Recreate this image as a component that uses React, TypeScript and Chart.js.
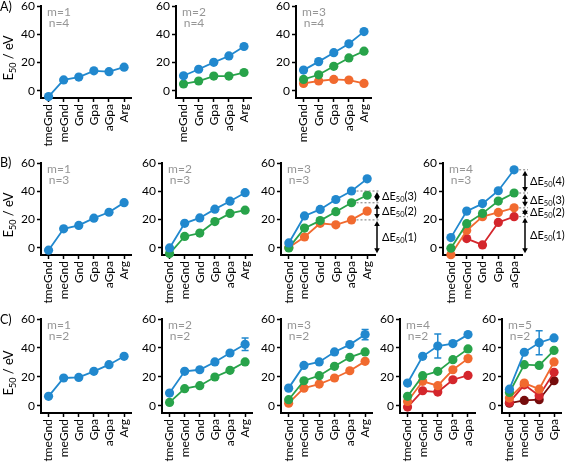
import React, { useEffect, useRef } from "react";
import { Chart, registerables } from "chart.js";

Chart.register(...registerables);

const FONT = "Lato, 'DejaVu Sans', sans-serif";
const BLUE = "rgb(33,136,206)";
const GREEN = "rgb(40,163,74)";
const ORANGE = "rgb(241,106,47)";
const RED = "rgb(212,38,44)";
const DARKRED = "rgb(118,12,12)";
const GRAY = "rgb(150,150,150)";

// categories
const catsSix = ["tmeGnd", "meGnd", "Gnd", "Gpa", "aGpa", "Arg"];
const catsNoT = ["meGnd", "Gnd", "Gpa", "aGpa", "Arg"];
const catsFive = ["tmeGnd", "meGnd", "Gnd", "Gpa", "aGpa"];
const catsFour = ["tmeGnd", "meGnd", "Gnd", "Gpa"];
const yTickValues = [0, 20, 40, 60];

// Row A (n=4)
const a1Blue = [-4, 7.8, 9.8, 14.2, 13.6, 16.8];
const a2Blue = [10.7, 15.3, 20.2, 24.7, 31.4];
const a2Green = [4.9, 7.0, 10.5, 10.5, 13.0];
const a3Blue = [14.7, 20.7, 27.0, 33.3, 41.9];
const a3Green = [8.1, 11.4, 17.4, 23.3, 28.1];
const a3Orange = [5.3, 7.0, 8.1, 7.7, 5.3];

// Row B (n=3)
const b1Blue = [-1.6, 13.5, 15.9, 21.0, 25.2, 32.0];
const b2Blue = [0, 17.4, 21.2, 27.4, 33.0, 39.0];
const b2Green = [-4, 8.1, 10.5, 18.6, 24.4, 26.7];
const b3Blue = [3.5, 22.6, 27.2, 34.2, 40.2, 48.8];
const b3Green = [0, 14.0, 19.3, 25.6, 31.9, 37.2];
const b3Orange = [0.3, 7.7, 17.4, 16.3, 19.8, 26.0];
const b4Blue = [7.3, 26.0, 31.3, 40.4, 55.2];
const b4Green = [-0.2, 17.1, 24.4, 33.1, 38.8];
const b4Orange = [-4.8, 12.3, 22.1, 25.1, 28.3];
const b4Red = [null, 6.6, 2.1, 18.0, 22.1];
const b3DeltaNums = [3, 2, 1];
const b4DeltaNums = [4, 3, 2, 1];

// Row C (n=2)
const c1Blue = [6.5, 19.2, 19.6, 23.8, 28.4, 34.2];
const c2Blue = [8.8, 23.8, 24.9, 30.3, 36.5, 42.5];
const c2BlueErr = [0, 0, 0, 0, 0, 4.3];
const c2Green = [2.3, 11.8, 13.9, 19.9, 24.5, 30.3];
const c3Blue = [12.2, 27.9, 30.3, 37.2, 42.3, 49.2];
const c3BlueErr = [0, 0, 0, 0, 0, 3.5];
const c3Green = [4.2, 17.3, 20.8, 27.3, 33.5, 37.2];
const c3Orange = [1.8, 12.2, 15.0, 19.2, 24.2, 30.7];
const c4Blue = [15.7, 34.2, 41.3, 43.0, 49.2];
const c4BlueErr = [0, 0, 8.3, 0, 0];
const c4Green = [6.5, 20.8, 23.8, 31.9, 39.3];
const c4Orange = [3.0, 16.9, 13.9, 24.9, 32.6];
const c4Red = [-0.9, 10.4, 9.5, 18.0, 21.0];
const c5Blue = [11.5, 37.0, 43.6, 46.9];
const c5BlueErr = [0, 0, 8.3, 0];
const c5Green = [9.2, 28.4, 27.9, 38.3];
const c5Orange = [5.3, 15.7, 11.5, 30.3];
const c5Red = [2.3, 14.5, 6.9, 23.1];
const c5DarkRed = [1.8, 3.7, 4.2, 17.3];

type Series = { color: string; values: (number | null)[]; err?: number[] };
type DeltaCfg = { index: number; floor: number; dx: number; nums: number[] };
type PanelCfg = {
  labels: string[];
  series: Series[];
  axisX: number;
  rightX: number;
  top: number;
  bottom: number;
  m: number;
  n: number;
  rightPad: number;
  delta?: DeltaCfg;
};

const ROW_A = { top: 6, bottom: 98 };
const ROW_B = { top: 163, bottom: 255 };
const ROW_C = { top: 319, bottom: 413 };

const YW = 30;
const PAD_TOP = 10;
const XH = 58;

const panels: PanelCfg[] = [
  { labels: catsSix, series: [{ color: BLUE, values: a1Blue }], axisX: 41, rightX: 135, ...ROW_A, m: 1, n: 4, rightPad: 6 },
  { labels: catsNoT, series: [{ color: BLUE, values: a2Blue }, { color: GREEN, values: a2Green }], axisX: 176, rightX: 255, ...ROW_A, m: 2, n: 4, rightPad: 6 },
  { labels: catsNoT, series: [{ color: BLUE, values: a3Blue }, { color: GREEN, values: a3Green }, { color: ORANGE, values: a3Orange }], axisX: 296, rightX: 375, ...ROW_A, m: 3, n: 4, rightPad: 6 },

  { labels: catsSix, series: [{ color: BLUE, values: b1Blue }], axisX: 41, rightX: 135, ...ROW_B, m: 1, n: 3, rightPad: 6 },
  { labels: catsSix, series: [{ color: BLUE, values: b2Blue }, { color: GREEN, values: b2Green }], axisX: 162, rightX: 256, ...ROW_B, m: 2, n: 3, rightPad: 6 },
  {
    labels: catsSix,
    series: [{ color: BLUE, values: b3Blue }, { color: GREEN, values: b3Green }, { color: ORANGE, values: b3Orange }],
    axisX: 281, rightX: 375, ...ROW_B, m: 3, n: 3, rightPad: 52,
    delta: { index: 4, floor: -4.5, dx: 2, nums: b3DeltaNums },
  },
  {
    labels: catsFive,
    series: [{ color: BLUE, values: b4Blue }, { color: GREEN, values: b4Green }, { color: ORANGE, values: b4Orange }, { color: RED, values: b4Red }],
    axisX: 443, rightX: 522, ...ROW_B, m: 4, n: 3, rightPad: 45,
    delta: { index: 4, floor: -4.5, dx: 3, nums: b4DeltaNums },
  },

  { labels: catsSix, series: [{ color: BLUE, values: c1Blue }], axisX: 41, rightX: 135, ...ROW_C, m: 1, n: 2, rightPad: 6 },
  { labels: catsSix, series: [{ color: BLUE, values: c2Blue, err: c2BlueErr }, { color: GREEN, values: c2Green }], axisX: 162, rightX: 256, ...ROW_C, m: 2, n: 2, rightPad: 6 },
  { labels: catsSix, series: [{ color: BLUE, values: c3Blue, err: c3BlueErr }, { color: GREEN, values: c3Green }, { color: ORANGE, values: c3Orange }], axisX: 281, rightX: 376, ...ROW_C, m: 3, n: 2, rightPad: 6 },
  { labels: catsFive, series: [{ color: BLUE, values: c4Blue, err: c4BlueErr }, { color: GREEN, values: c4Green }, { color: ORANGE, values: c4Orange }, { color: RED, values: c4Red }], axisX: 400, rightX: 479, ...ROW_C, m: 4, n: 2, rightPad: 6 },
  { labels: catsFour, series: [{ color: BLUE, values: c5Blue, err: c5BlueErr }, { color: GREEN, values: c5Green }, { color: ORANGE, values: c5Orange }, { color: RED, values: c5Red }, { color: DARKRED, values: c5DarkRed }], axisX: 502, rightX: 567, ...ROW_C, m: 5, n: 2, rightPad: 4 },
];

function PanelChart({ p }: { p: PanelCfg }) {
  const ref = useRef<HTMLCanvasElement>(null);
  const left = p.axisX - YW;
  const top = p.top - PAD_TOP;
  const width = YW + (p.rightX - p.axisX) + p.rightPad;
  const height = PAD_TOP + (p.bottom - p.top) + XH;

  useEffect(() => {
    const decor = {
      id: "decor",
      afterDatasetsDraw(chart: any) {
        const ctx = chart.ctx as CanvasRenderingContext2D;
        const area = chart.chartArea;
        const xs = chart.scales.x;
        const ys = chart.scales.y;
        ctx.save();
        // error bars
        p.series.forEach((s) => {
          if (!s.err) return;
          s.err.forEach((e, j) => {
            const v = s.values[j];
            if (!e || v == null) return;
            const x = xs.getPixelForValue(j);
            const y1 = ys.getPixelForValue(v + e);
            const y2 = ys.getPixelForValue(v - e);
            ctx.strokeStyle = s.color;
            ctx.lineWidth = 1.5;
            ctx.beginPath();
            ctx.moveTo(x, y1);
            ctx.lineTo(x, y2);
            ctx.moveTo(x - 3.5, y1);
            ctx.lineTo(x + 3.5, y1);
            ctx.moveTo(x - 3.5, y2);
            ctx.lineTo(x + 3.5, y2);
            ctx.stroke();
          });
        });
        // m / n labels
        ctx.fillStyle = GRAY;
        ctx.font = `12px ${FONT}`;
        ctx.textAlign = "center";
        ctx.textBaseline = "middle";
        ctx.fillText(`m=${p.m}`, area.left + 18, area.top + 6);
        ctx.fillText(`n=${p.n}`, area.left + 18, area.top + 17);
        // delta annotations
        if (p.delta) {
          const d = p.delta;
          const levels = p.series.map((s) => s.values[d.index] as number);
          levels.push(d.floor);
          const ax = area.right + d.dx;
          const px = xs.getPixelForValue(d.index);
          ctx.strokeStyle = "rgb(120,120,120)";
          ctx.lineWidth = 1;
          ctx.setLineDash([2, 2]);
          for (let i = 0; i < levels.length - 1; i++) {
            const y = ys.getPixelForValue(levels[i]);
            ctx.beginPath();
            ctx.moveTo(px + 5, y);
            ctx.lineTo(ax + 3, y);
            ctx.stroke();
          }
          ctx.setLineDash([]);
          ctx.strokeStyle = "#000";
          ctx.fillStyle = "#000";
          ctx.lineWidth = 1.5;
          for (let i = 0; i < levels.length - 1; i++) {
            const y1 = ys.getPixelForValue(levels[i]) + 1;
            const y2 = ys.getPixelForValue(levels[i + 1]) - 1;
            ctx.beginPath();
            ctx.moveTo(ax, y1 + 3);
            ctx.lineTo(ax, y2 - 3);
            ctx.stroke();
            ctx.beginPath();
            ctx.moveTo(ax, y1);
            ctx.lineTo(ax - 2.8, y1 + 5);
            ctx.lineTo(ax + 2.8, y1 + 5);
            ctx.closePath();
            ctx.fill();
            ctx.beginPath();
            ctx.moveTo(ax, y2);
            ctx.lineTo(ax - 2.8, y2 - 5);
            ctx.lineTo(ax + 2.8, y2 - 5);
            ctx.closePath();
            ctx.fill();
            // label
            const ym = (y1 + y2) / 2;
            let tx = ax + 5;
            ctx.textAlign = "left";
            ctx.textBaseline = "middle";
            ctx.font = `11px ${FONT}`;
            ctx.fillText("ΔE", tx, ym);
            tx += ctx.measureText("ΔE").width;
            ctx.font = `7.5px ${FONT}`;
            ctx.fillText("50", tx, ym + 3);
            tx += ctx.measureText("50").width;
            ctx.font = `11px ${FONT}`;
            ctx.fillText(`(${d.nums[i]})`, tx, ym);
          }
        }
        ctx.restore();
      },
    };

    const gridCommon = {
      display: true,
      drawOnChartArea: false,
      drawTicks: true,
      tickWidth: 1.5,
      tickColor: "#000",
      color: "#000",
    };

    const chart = new Chart(ref.current as HTMLCanvasElement, {
      type: "line",
      data: {
        labels: p.labels,
        datasets: p.series.map((s) => ({
          data: s.values,
          borderColor: s.color,
          backgroundColor: s.color,
          pointBackgroundColor: s.color,
          pointBorderColor: s.color,
          pointBorderWidth: 0,
          pointRadius: 4.6,
          borderWidth: 1.8,
          tension: 0,
          clip: false as any,
          spanGaps: false,
        })),
      },
      options: {
        responsive: false,
        animation: false,
        layout: { padding: { top: PAD_TOP, right: p.rightPad, left: 0, bottom: 0 } },
        plugins: { legend: { display: false }, tooltip: { enabled: false } },
        scales: {
          x: {
            type: "category",
            offset: true,
            grid: { ...gridCommon, tickLength: 4 },
            border: { display: true, color: "#000", width: 2 },
            ticks: {
              minRotation: 90,
              maxRotation: 90,
              autoSkip: false,
              color: "#000",
              padding: 2,
              font: { size: 12, family: FONT },
            },
            afterFit: (s: any) => {
              s.height = XH;
            },
          },
          y: {
            type: "linear",
            min: -5,
            max: 60,
            afterBuildTicks: (s: any) => {
              s.ticks = yTickValues.map((v) => ({ value: v }));
            },
            grid: { ...gridCommon, tickLength: 4 },
            border: { display: true, color: "#000", width: 2 },
            ticks: { color: "#000", padding: 2, font: { size: 12, family: FONT } },
            afterFit: (s: any) => {
              s.width = YW;
            },
          },
        },
      } as any,
      plugins: [decor],
    });
    return () => chart.destroy();
  }, []);

  return (
    <canvas
      ref={ref}
      width={width}
      height={height}
      style={{ position: "absolute", left, top, width, height }}
    />
  );
}

const rowLetters = [
  { text: "A)", top: 0 },
  { text: "B)", top: 156 },
  { text: "C)", top: 313 },
];
const titleCenters = [58, 215, 373];

export default function App() {
  useEffect(() => {
    document.body.style.margin = "0";
  }, []);
  return (
    <div
      style={{
        position: "fixed",
        left: 0,
        top: 0,
        width: 567,
        height: 466,
        background: "#fff",
        overflow: "hidden",
        fontFamily: FONT,
        color: "#000",
      }}
    >
      {panels.map((p, i) => (
        <PanelChart key={i} p={p} />
      ))}
      {rowLetters.map((r, i) => (
        <div key={"l" + i} style={{ position: "absolute", left: 0, top: r.top, fontSize: 12.5, lineHeight: "13px" }}>
          {r.text}
        </div>
      ))}
      {titleCenters.map((cy, i) => (
        <div
          key={"t" + i}
          style={{
            position: "absolute",
            left: 8 - 40,
            top: cy - 8,
            width: 80,
            height: 16,
            lineHeight: "16px",
            fontSize: 13,
            textAlign: "center",
            transform: "rotate(-90deg)",
            whiteSpace: "nowrap",
          }}
        >
          E<sub style={{ fontSize: 9, lineHeight: 0, verticalAlign: "-3px" }}>50</sub> / eV
        </div>
      ))}
    </div>
  );
}
